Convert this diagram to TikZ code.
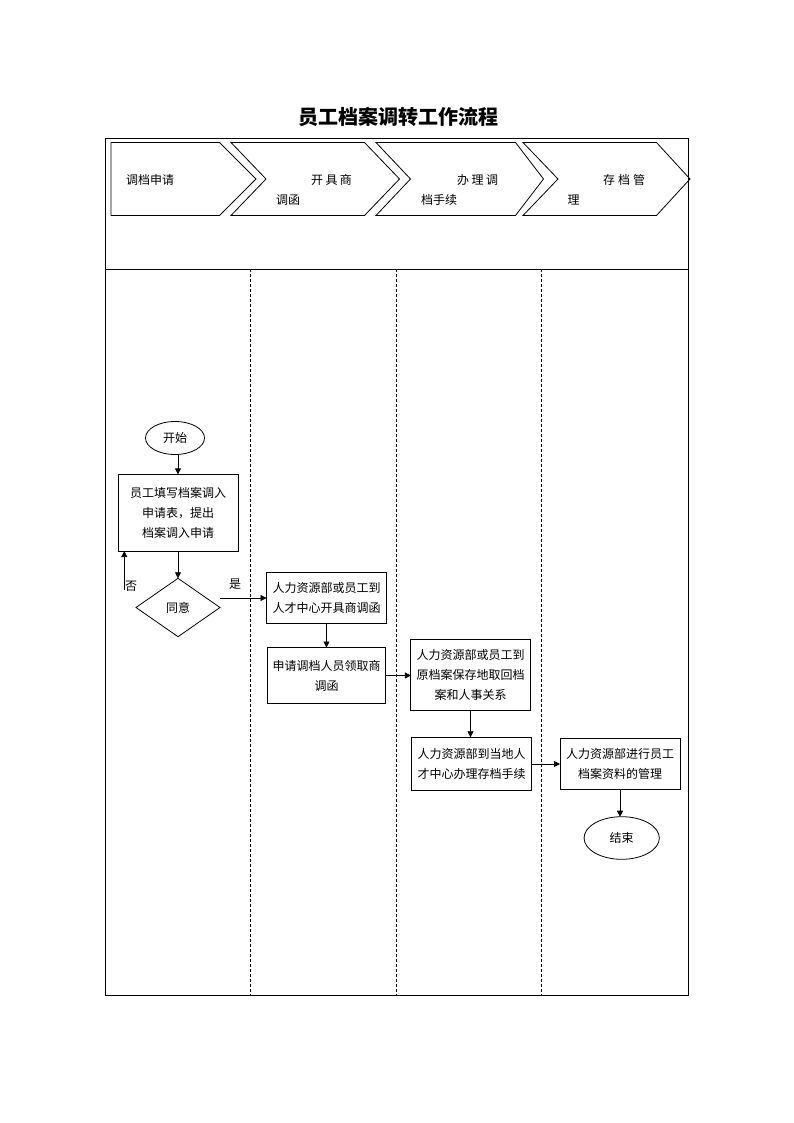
\documentclass[tikz,border=0pt]{standalone}
\usepackage{fontspec}
\newfontfamily\cjk{Noto Sans CJK SC}
\usetikzlibrary{arrows.meta,shapes.geometric}
\begin{document}
\begin{tikzpicture}[x=1pt,y=-1pt,
  line width=0.8pt,
  every node/.style={font=\cjk\fontsize{12}{20}\selectfont, inner sep=0pt, outer sep=0pt},
  box/.style={draw, rectangle, align=center},
  oval/.style={draw, ellipse},
  arr/.style={-{Triangle[length=6pt,width=6pt]}},
  lane/.style={line width=0.6pt, dash pattern=on 3pt off 2pt},
  chev/.style={line width=0.8pt}]
\useasboundingbox (0,0) rectangle (794,1123);
% title
\node[font=\cjk\bfseries\fontsize{20}{24}\selectfont] (title) at (398,117) {员工档案调转工作流程};
% frame
\draw (105,138) rectangle (688,995);
\draw (105,269) -- (688,269);
\draw[lane] (250,269) -- (250,995);
\draw[lane] (396.5,269) -- (396.5,995);
\draw[lane] (541.5,269) -- (541.5,995);
% chevrons
\draw[chev] (111,142.5) -- (219.5,142.5) -- (256,179) -- (219.5,215.5) -- (111,215.5) -- cycle;
\draw[chev] (231,142.5) -- (364.5,142.5) -- (399.5,179) -- (364.5,215.5) -- (231,215.5) -- (266,179) -- cycle;
\draw[chev] (376,142.5) -- (515.5,142.5) -- (543.5,179) -- (515.5,215.5) -- (376,215.5) -- (410.5,179) -- cycle;
\draw[chev] (523,142.5) -- (656.5,142.5) -- (690,179) -- (656.5,215.5) -- (523,215.5) -- (558,179) -- cycle;
\node[anchor=west] (h1) at (126,180) {调档申请};
\node[anchor=west] (h2a) at (311,180) {开\hspace{2.5pt}具\hspace{2.5pt}商};
\node[anchor=west] (h2b) at (276,200) {调函};
\node[anchor=west] (h3a) at (457,180) {办\hspace{2.5pt}理\hspace{2.5pt}调};
\node[anchor=west] (h3b) at (421,200) {档手续};
\node[anchor=west] (h4a) at (603,180) {存\hspace{3pt}档\hspace{3pt}管};
\node[anchor=west] (h4b) at (567.5,200) {理};
% flow nodes
\node[oval, minimum width=59pt, minimum height=33pt] (st) at (175,438) {开始};
\node[box, minimum width=120pt, minimum height=76.7pt] (b1) at (178,512.7) {员工填写档案调入\\申请表，提出\\档案调入申请};
\node[draw, diamond, minimum width=84pt, minimum height=58.4pt] (dia) at (178,607.5) {同意};
\node[box, minimum width=120pt, minimum height=50.6pt] (b2) at (326.5,598) {人力资源部或员工到\\人才中心开具商调函};
\node[box, minimum width=118.7pt, minimum height=56pt] (b3) at (326.5,675.5) {申请调档人员领取商\\调函};
\node[box, minimum width=119.3pt, minimum height=71.7pt] (b4) at (470.5,675) {人力资源部或员工到\\原档案保存地取回档\\案和人事关系};
\node[box, minimum width=120pt, minimum height=53.4pt] (b5) at (471.5,764) {人力资源部到当地人\\才中心办理存档手续};
\node[box, minimum width=120pt, minimum height=51.7pt] (b6) at (620,764) {人力资源部进行员工\\档案资料的管理};
\node[oval, minimum width=75.3pt, minimum height=42.6pt] (en) at (621.7,838) {结束};
\node (yes) at (235,584) {是};
\node (no) at (131,586) {否};
\coordinate (nofoot) at (124.3,590);
% connectors
\draw[arr] (b1.north |- st.south) -- (b1.north);
\draw[arr] (b1.south) -- (dia.north);
\draw[arr] (nofoot) -- (nofoot |- b1.south);
\draw[arr] (b2.west -| dia.east) -- (b2.west);
\draw[arr] (b2.south) -- (b3.north);
\draw[arr] (b3.east) -- (b3.east -| b4.west);
\draw[arr] (b4.south) -- (b4.south |- b5.north);
\draw[arr] (b5.east) -- (b5.east -| b6.west);
\draw[arr] (b6.south) -- (b6.south |- en.north);
\end{tikzpicture}
\end{document}
